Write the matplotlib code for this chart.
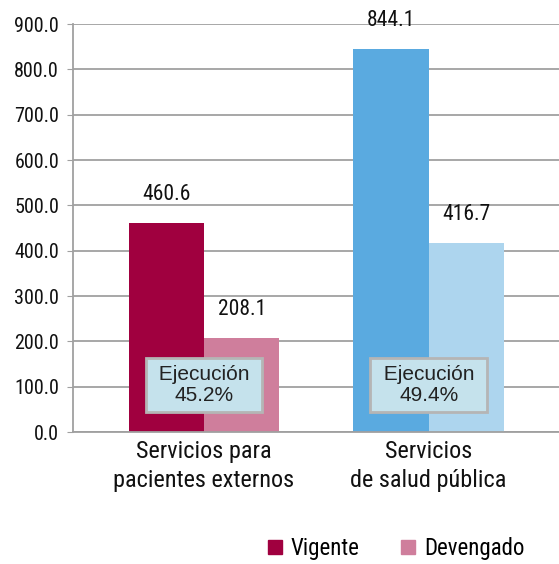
import matplotlib
matplotlib.use("Agg")
import matplotlib.pyplot as plt
from matplotlib.patches import Patch

# data
categories = ["Servicios para\npacientes externos", "Servicios\nde salud pública"]
vigente = [460.6, 844.1]
devengado = [208.1, 416.7]
ejecucion = ["45.2%", "49.4%"]
yticks = [0, 100, 200, 300, 400, 500, 600, 700, 800, 900]

# colours per group: (vigente, devengado)
colors = [("#A0003F", "#CF7E9C"), ("#5AAAE0", "#ADD5EE")]

plt.rcParams["font.family"] = ["Roboto Condensed", "DejaVu Sans"]

fig = plt.figure(figsize=(5.59, 5.64), dpi=100)
ax = fig.add_axes([73 / 559, 132 / 564, 1 - 73 / 559, 408 / 564])

w = 0.335
x = range(len(categories))
for i in x:
    cv, cd = colors[i]
    ax.bar(i - w / 2, vigente[i], width=w, color=cv, zorder=2)
    ax.bar(i + w / 2, devengado[i], width=w, color=cd, zorder=2)
    for xx, v in ((i - w / 2, vigente[i]), (i + w / 2, devengado[i])):
        ax.annotate(f"{v:.1f}", (xx, v), xytext=(0, 13), textcoords="offset points",
                    ha="center", va="bottom", fontsize=15.5, color="#111111")
    # execution box
    ax.text(i, 104, f" Ejecución \n{ejecucion[i]}", ha="center", va="center",
            fontsize=15, family=["Liberation Sans", "DejaVu Sans"], color="#222222",
            linespacing=1.1, zorder=4,
            bbox=dict(boxstyle="square,pad=0.35", fc="#C5E2EC", ec="#B5B5B5", lw=2))

ax.set_xlim(-0.583, 1.58)
ax.set_ylim(0, 900)
ax.set_yticks(yticks)
ax.set_yticklabels([f"{v:.1f}" for v in yticks], fontsize=14.5, color="#111111")
ax.set_xticks(list(x))
ax.set_xticklabels(categories, fontsize=17.5, color="#111111", linespacing=1.3)
ax.tick_params(axis="x", length=0, pad=6)
ax.tick_params(axis="y", length=4, color="#A0A0A0", pad=6)
ax.yaxis.grid(True, color="#A0A0A0", lw=1.3, zorder=0)
ax.set_axisbelow(True)
for s in ("top", "right"):
    ax.spines[s].set_visible(False)
for s in ("left", "bottom"):
    ax.spines[s].set_color("#A0A0A0")
    ax.spines[s].set_linewidth(1.3)

handles = [Patch(color=colors[0][0], label="Vigente"),
           Patch(color=colors[0][1], label="Devengado")]
fig.legend(handles=handles, loc="lower right", bbox_to_anchor=(0.975, -0.03), ncol=2,
           frameon=False, fontsize=16.5, handlelength=0.6, handleheight=0.6,
           handletextpad=0.4, columnspacing=1.8)

fig.savefig("out.png", dpi=100)
